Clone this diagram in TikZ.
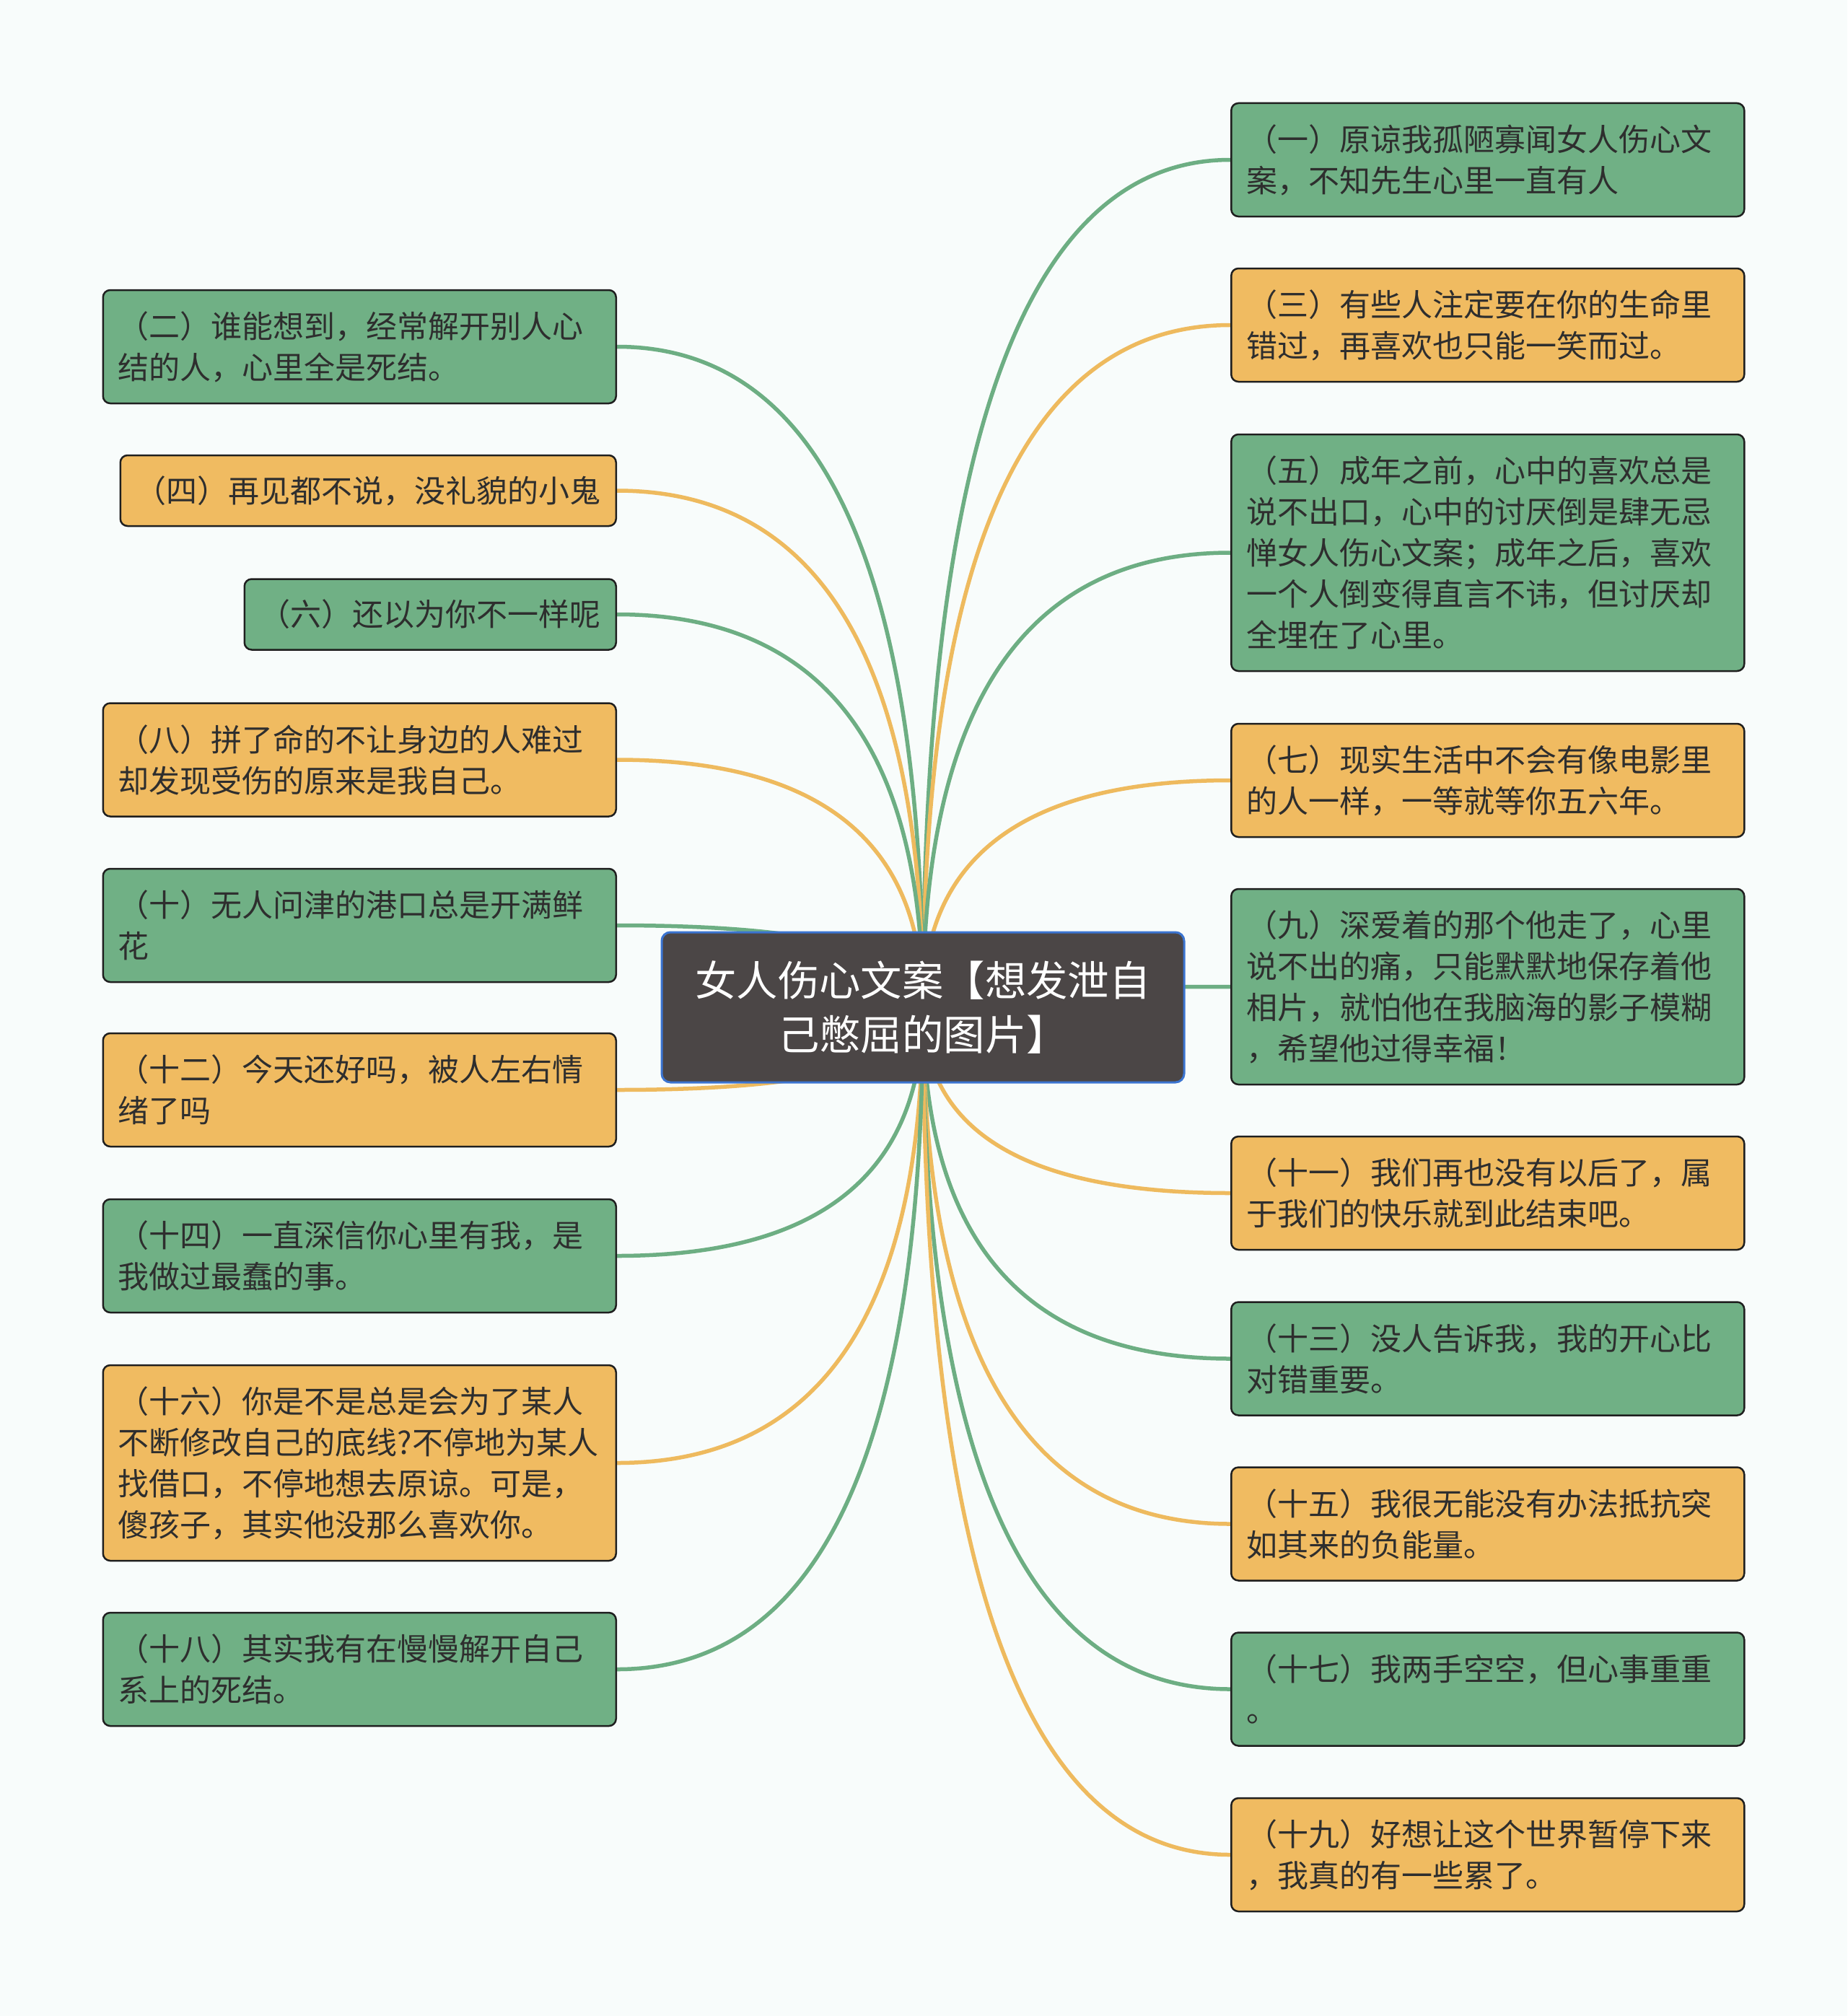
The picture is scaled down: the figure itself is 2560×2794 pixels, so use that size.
\documentclass[tikz,border=0pt]{standalone}
\usepackage{fontspec}
\setmainfont{Noto Sans CJK SC}
\usetikzlibrary{calc,backgrounds}
\definecolor{bgc}{HTML}{F8FCFB}
\definecolor{gfill}{HTML}{70B085}
\definecolor{ofill}{HTML}{F0BB61}
\definecolor{gline}{HTML}{6DAE83}
\definecolor{oline}{HTML}{EEBA5E}
\definecolor{rootfill}{HTML}{4B4646}
\definecolor{rootborder}{HTML}{3B74D0}
\definecolor{leafborder}{HTML}{1F1F1F}
\definecolor{leaftext}{HTML}{2E2E2E}
\newcommand\mmconn[2]{%
  \draw[conn,#2] (root.center) .. controls ($(root.center)!0.6667!(root.center |- #1)$) and ($(#1)!0.6667!(root.center |- #1)$) .. (#1);}
\begin{document}
\begin{tikzpicture}[x=1pt,y=-1pt,
  leafbase/.style={rectangle, rounded corners=10pt, draw=leafborder, line width=2.5pt,
    inner xsep=21pt, inner ysep=0pt, align=left, text=leaftext,
    font=\fontsize{43}{57}\selectfont},
  leaf/.style={leafbase, text width=669pt},
  gbox/.style={fill=gfill},
  obox/.style={fill=ofill},
  two/.style={minimum height=157pt},
  one/.style={minimum height=98pt},
  four/.style={minimum height=271pt},
  five/.style={minimum height=328pt},
  rootbox/.style={rectangle, rounded corners=12pt, fill=rootfill, draw=rootborder,
    line width=3pt, minimum width=724pt, minimum height=208pt, align=center,
    text=white, font=\fontsize{57.4}{75}\selectfont},
  conn/.style={line width=5.5pt}
]
\node[rootbox] (root) at (1279,1396) {女人伤心文案【想发泄自\\己憋屈的图片】};

% right side
\node[leaf,gbox,two,anchor=west] (r1) at (1705,221.5) {（一）原谅我孤陋寡闻女人伤心文\\案，不知先生心里一直有人};
\node[leaf,obox,two,anchor=west] (r3) at (1705,450.5) {（三）有些人注定要在你的生命里\\错过，再喜欢也只能一笑而过。};
\node[leaf,gbox,five,anchor=west] (r5) at (1705,766) {（五）成年之前，心中的喜欢总是\\说不出口，心中的讨厌倒是肆无忌\\惮女人伤心文案；成年之后，喜欢\\一个人倒变得直言不讳，但讨厌却\\全埋在了心里。};
\node[leaf,obox,two,anchor=west] (r7) at (1705,1081.5) {（七）现实生活中不会有像电影里\\的人一样，一等就等你五六年。};
\node[leaf,gbox,four,anchor=west] (r9) at (1705,1367.5) {（九）深爱着的那个他走了，心里\\说不出的痛，只能默默地保存着他\\相片，就怕他在我脑海的影子模糊\\，希望他过得幸福！};
\node[leaf,obox,two,anchor=west] (r11) at (1705,1653.5) {（十一）我们再也没有以后了，属\\于我们的快乐就到此结束吧。};
\node[leaf,gbox,two,anchor=west] (r13) at (1705,1883) {（十三）没人告诉我，我的开心比\\对错重要。};
\node[leaf,obox,two,anchor=west] (r15) at (1705,2112) {（十五）我很无能没有办法抵抗突\\如其来的负能量。};
\node[leaf,gbox,two,anchor=west] (r17) at (1705,2341) {（十七）我两手空空，但心事重重\\。};
\node[leaf,obox,two,anchor=west] (r19) at (1705,2570.5) {（十九）好想让这个世界暂停下来\\，我真的有一些累了。};

% left side
\node[leaf,gbox,two,anchor=east] (l2) at (855,480.5) {（二）谁能想到，经常解开别人心\\结的人，心里全是死结。};
\node[leafbase,obox,one,anchor=east] (l4) at (855,680) {（四）再见都不说，没礼貌的小鬼};
\node[leafbase,gbox,one,anchor=east] (l6) at (855,851.5) {（六）还以为你不一样呢};
\node[leaf,obox,two,anchor=east] (l8) at (855,1053) {（八）拼了命的不让身边的人难过\\却发现受伤的原来是我自己。};
\node[leaf,gbox,two,anchor=east] (l10) at (855,1282.5) {（十）无人问津的港口总是开满鲜\\花};
\node[leaf,obox,two,anchor=east] (l12) at (855,1510.5) {（十二）今天还好吗，被人左右情\\绪了吗};
\node[leaf,gbox,two,anchor=east] (l14) at (855,1740.5) {（十四）一直深信你心里有我，是\\我做过最蠢的事。};
\node[leaf,obox,four,anchor=east] (l16) at (855,2027.5) {（十六）你是不是总是会为了某人\\不断修改自己的底线?不停地为某人\\找借口，不停地想去原谅。可是，\\傻孩子，其实他没那么喜欢你。};
\node[leaf,gbox,two,anchor=east] (l18) at (855,2313.5) {（十八）其实我有在慢慢解开自己\\系上的死结。};

\begin{pgfonlayer}{background}
\fill[bgc] (0,0) rectangle (2560,2794);
\mmconn{r1.west}{gline}
\mmconn{r3.west}{oline}
\mmconn{r5.west}{gline}
\mmconn{r7.west}{oline}
\mmconn{r9.west}{gline}
\mmconn{r11.west}{oline}
\mmconn{r13.west}{gline}
\mmconn{r15.west}{oline}
\mmconn{r17.west}{gline}
\mmconn{r19.west}{oline}
\mmconn{l2.east}{gline}
\mmconn{l4.east}{oline}
\mmconn{l6.east}{gline}
\mmconn{l8.east}{oline}
\mmconn{l10.east}{gline}
\mmconn{l12.east}{oline}
\mmconn{l14.east}{gline}
\mmconn{l16.east}{oline}
\mmconn{l18.east}{gline}
\end{pgfonlayer}
\end{tikzpicture}
\end{document}
